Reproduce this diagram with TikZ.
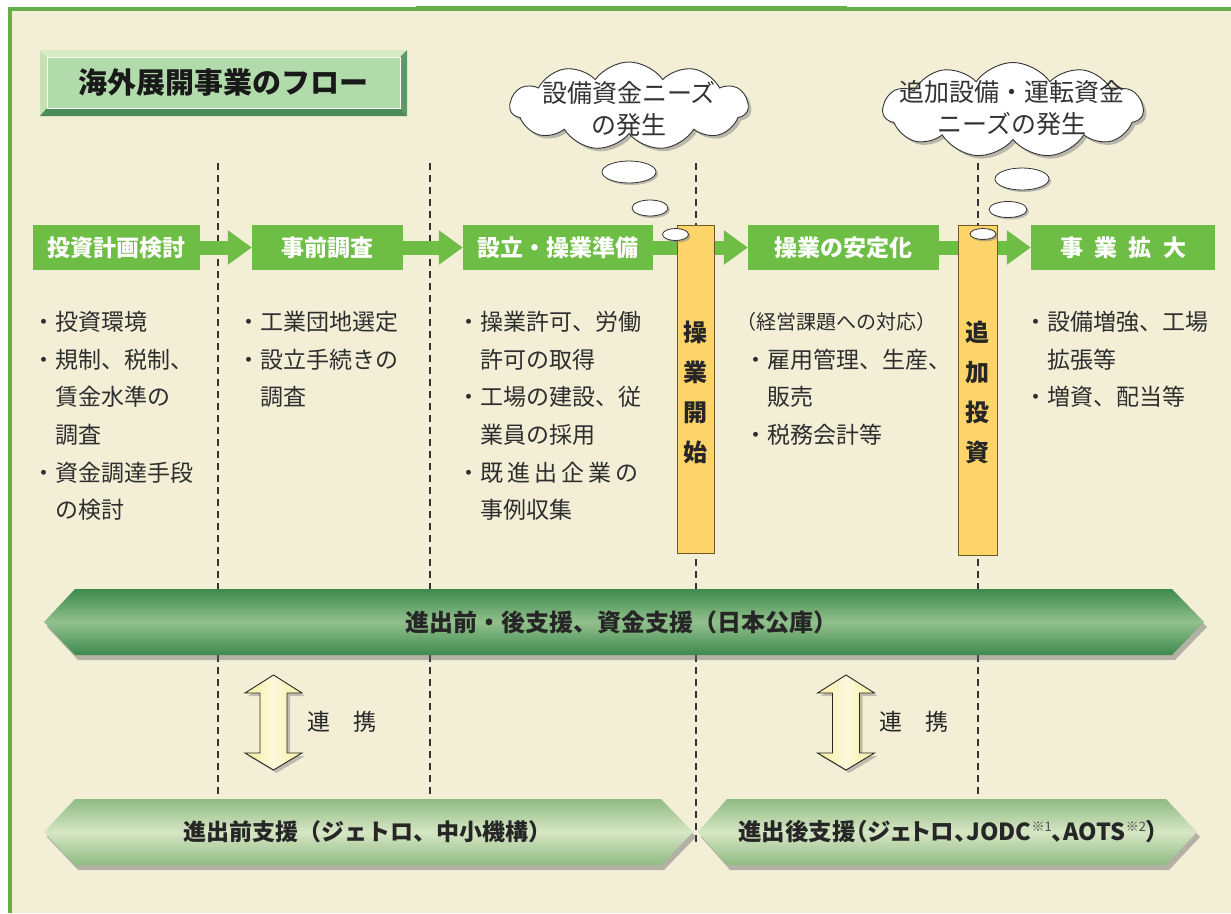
\documentclass[tikz,border=0pt]{standalone}
\usepackage{fontspec}
\setmainfont{Noto Sans CJK JP}
\usetikzlibrary{shapes.symbols,shapes.geometric,shadows,arrows.meta,calc}
\definecolor{bg}{HTML}{F3EFD7}
\definecolor{framegreen}{HTML}{66AE4A}
\definecolor{stepgreen}{HTML}{6EBD45}
\definecolor{tbtop}{HTML}{D8EBC7}
\definecolor{tbleft}{HTML}{C6E2B2}
\definecolor{tbright}{HTML}{5E9A68}
\definecolor{tbbot}{HTML}{4B8B57}
\definecolor{tbface}{HTML}{B2DBAB}
\definecolor{bigdark}{HTML}{3D8A4E}
\definecolor{biglight}{HTML}{92C08C}
\definecolor{smdark}{HTML}{8FBB83}
\definecolor{smlight}{HTML}{D6E6C4}
\definecolor{barfill}{HTML}{FDD469}
\definecolor{barline}{HTML}{6F5B22}
\definecolor{yel}{HTML}{F8EE9C}
\definecolor{textdark}{HTML}{262626}
\newcommand\myfs[2]{\fontsize{#1}{#2}\selectfont}
\newcommand\mysup[1]{\raisebox{0.42em}{\myfs{13pt}{13pt}\mdseries\color{black!70}#1}}
\tikzset{
  dashline/.style={draw=black!80, line width=1.1pt, dash pattern=on 7pt off 5pt},
  stepbox/.style={fill=stepgreen, text=white, font=\myfs{23pt}{23pt}\bfseries, minimum height=45pt, inner sep=0pt},
  steparrow/.style={draw=stepgreen, line width=14pt, -{Triangle[width=33pt,length=24pt]}},
  barbox/.style={draw=barline, line width=0.8pt, fill=barfill, inner sep=0pt},
  bartext/.style={font=\myfs{24pt}{40pt}\bfseries, align=center, text=textdark, inner sep=0pt},
  bubble/.style={shape=ellipse, draw=black!80, line width=0.8pt, fill=white, inner sep=0pt,
     drop shadow={shadow xshift=2pt, shadow yshift=-2pt, fill=black!50, opacity=.5}},
  cloudbox/.style={shape=cloud, cloud puffs=11, cloud puff arc=110, cloud ignores aspect, draw=black!80,
     line width=0.9pt, fill=white, inner sep=0pt,
     drop shadow={shadow xshift=3pt, shadow yshift=-3pt, fill=black!50, opacity=.5}},
  cloudtext/.style={font=\myfs{25pt}{32pt}, align=center, text=black!80, inner sep=0pt},
  bodytext/.style={font=\myfs{23pt}{23pt}, text=black!82, inner sep=0pt, anchor=west},
  bigtext/.style={font=\myfs{24pt}{24pt}\bfseries, text=textdark, inner sep=0pt},
  bandshadow/.style={drop shadow={shadow xshift=3pt, shadow yshift=-5pt, fill=black!60, opacity=.45}},
  yelarrow/.style={draw=black!85, line width=0.9pt, left color=yel, right color=yel, middle color=yel!35!white,
     drop shadow={shadow xshift=3pt, shadow yshift=-3pt, fill=black!50, opacity=.45}},
  linktext/.style={font=\myfs{23pt}{23pt}, text=black!85, inner sep=0pt}
}
\begin{document}
\begin{tikzpicture}[x=1pt,y=-1pt]
\useasboundingbox (0,0) rectangle (1231,913);
% background and frame
\fill[white] (0,0) rectangle (1231,913);
\fill[bg] (8,7) rectangle (1231,913);
\fill[framegreen] (8,7) rectangle (1231,11);
\fill[framegreen] (416,6) rectangle (847,11);
\fill[framegreen] (8,7) rectangle (12,913);

% title box (bevelled)
\fill[tbtop] (40,50) -- (407,50) -- (400,57) -- (47,57) -- cycle;
\fill[tbleft] (40,50) -- (47,57) -- (47,108) -- (40,116) -- cycle;
\fill[tbright] (407,50) -- (407,116) -- (400,108) -- (400,57) -- cycle;
\fill[tbbot] (40,116) -- (407,116) -- (400,108) -- (47,108) -- cycle;
\draw[fill=tbface, draw=white, line width=0.8pt] (47,57) rectangle (400,108);
\node[font=\myfs{29pt}{29pt}\bfseries, text=black!90, inner sep=0pt] (title) at (223.5,83) {海外展開事業のフロー};

% dashed guide lines
\foreach \gx in {218,430,696,978} { \draw[dashline] (\gx,163) -- (\gx,845); }

% step boxes
\node[stepbox, minimum width=167pt] (b1) at (116.5,247.5) {投資計画検討};
\node[stepbox, minimum width=151pt] (b2) at (327.5,247.5) {事前調査};
\node[stepbox, minimum width=190pt] (b3) at (558,247.5) {設立・操業準備};
\node[stepbox, minimum width=191pt] (b4) at (843.5,247.5) {操業の安定化};
\node[stepbox, minimum width=184pt] (b5) at (1123,247.5) {\makebox[126pt][s]{事\hfil 業\hfil 拡\hfil 大}};
\draw[steparrow] (b1.east) -- (b2.west);
\draw[steparrow] (b2.east) -- (b3.west);
\draw[steparrow] (b3.east) -- (b4.west);
\draw[steparrow] (b4.east) -- (b5.west);

% vertical bars
\node[barbox, minimum width=37pt, minimum height=328pt] (bar1) at (695.5,389) {};
\node[barbox, minimum width=39pt, minimum height=330pt] (bar2) at (977.5,390) {};
\node[bartext] (bar1t) at (695.5,392.5) {操\\業\\開\\始};
\node[bartext] (bar2t) at (977.5,392.5) {追\\加\\投\\資};

% thought bubbles and clouds
\node[bubble, minimum width=54pt, minimum height=22pt] (p1a) at (629,172) {};
\node[bubble, minimum width=36pt, minimum height=16pt] (p1b) at (650,208) {};
\node[bubble, minimum width=26pt, minimum height=12pt] (p1c) at (675.5,234.5) {};
\node[bubble, minimum width=54pt, minimum height=22pt] (p2a) at (1022,179) {};
\node[bubble, minimum width=38pt, minimum height=16pt] (p2b) at (1008,209.5) {};
\node[bubble, minimum width=26pt, minimum height=11pt] (p2c) at (983,234) {};
\node[cloudbox, minimum width=238pt, minimum height=88pt] (c1) at (629,106) {};
\node[cloudbox, minimum width=260pt, minimum height=95pt] (c2) at (1013,110) {};
\node[cloudtext] (c1t) at (629,109) {設備資金ニーズ\\の発生};
\node[cloudtext] (c2t) at (1012,108) {追加設備・運転資金\\ニーズの発生};

% body texts
\node[bodytext] (t11) at (32,322) {・投資環境};
\node[bodytext] (t12) at (32,360) {・規制、税制、};
\node[bodytext] (t13) at (55,397) {賃金水準の};
\node[bodytext] (t14) at (55,435) {調査};
\node[bodytext] (t15) at (32,473) {・資金調達手段};
\node[bodytext] (t16) at (55,510) {の検討};

\node[bodytext] (t21) at (237,322) {・工業団地選定};
\node[bodytext] (t22) at (237,360) {・設立手続きの};
\node[bodytext] (t23) at (260,397) {調査};

\node[bodytext] (t31) at (457,322) {・操業許可、労働};
\node[bodytext] (t32) at (480,360) {許可の取得};
\node[bodytext] (t33) at (457,397) {・工場の建設、従};
\node[bodytext] (t34) at (480,435) {業員の採用};
\node[bodytext] (t35) at (457,473) {・\makebox[158pt][s]{既\hfil 進\hfil 出\hfil 企\hfil 業\hfil の}};
\node[bodytext] (t36) at (480,510) {事例収集};

\node[bodytext, font=\myfs{20pt}{20pt}, anchor=center] (t41) at (836,322) {（経営課題への対応）};
\node[bodytext] (t42) at (744,360) {・雇用管理、生産、};
\node[bodytext] (t43) at (767,397) {販売};
\node[bodytext] (t44) at (744,435) {・税務会計等};

\node[bodytext] (t51) at (1024,322) {・設備増強、工場};
\node[bodytext] (t52) at (1047,360) {拡張等};
\node[bodytext] (t53) at (1024,397) {・増資、配当等};

% big support band
\shade[top color=bigdark, bottom color=bigdark, middle color=biglight, bandshadow]
  (44,622) -- (75,589) -- (1172,589) -- (1204,622) -- (1172,655) -- (75,655) -- cycle;
\node[bigtext] (bigt) at (621,622) {進出前・後支援、資金支援（日本公庫）};

% link arrows
\path[yelarrow] (273.5,675) -- (302,693) -- (287,693) -- (287,753) -- (302,753) -- (273.5,770)
  -- (245,753) -- (260,753) -- (260,693) -- (245,693) -- cycle;
\path[yelarrow] (846,675) -- (874.5,693) -- (859.5,693) -- (859.5,753) -- (874.5,753) -- (846,770)
  -- (817.5,753) -- (832.5,753) -- (832.5,693) -- (817.5,693) -- cycle;
\node[linktext] (l1) at (342,722) {連　携};
\node[linktext] (l2) at (914,722) {連　携};

% bottom support bands
\shade[top color=smdark, bottom color=smdark, middle color=smlight, bandshadow]
  (44,832) -- (75,799) -- (661,799) -- (693,832) -- (661,865) -- (75,865) -- cycle;
\shade[top color=smdark, bottom color=smdark, middle color=smlight, bandshadow]
  (698,832) -- (727,799) -- (1166,799) -- (1197,832) -- (1166,865) -- (727,865) -- cycle;
\node[bigtext, font=\myfs{23pt}{23pt}\bfseries] (s1) at (367,832) {進出前支援（ジェトロ、中小機構）};
\node[bigtext, font=\myfs{23.5pt}{23.5pt}\bfseries\addfontfeatures{RawFeature=+palt}] (s2) at (948,832) {進出後支援（ジェトロ、JODC\mysup{※1}、AOTS\mysup{※2}）};
\end{tikzpicture}
\end{document}
